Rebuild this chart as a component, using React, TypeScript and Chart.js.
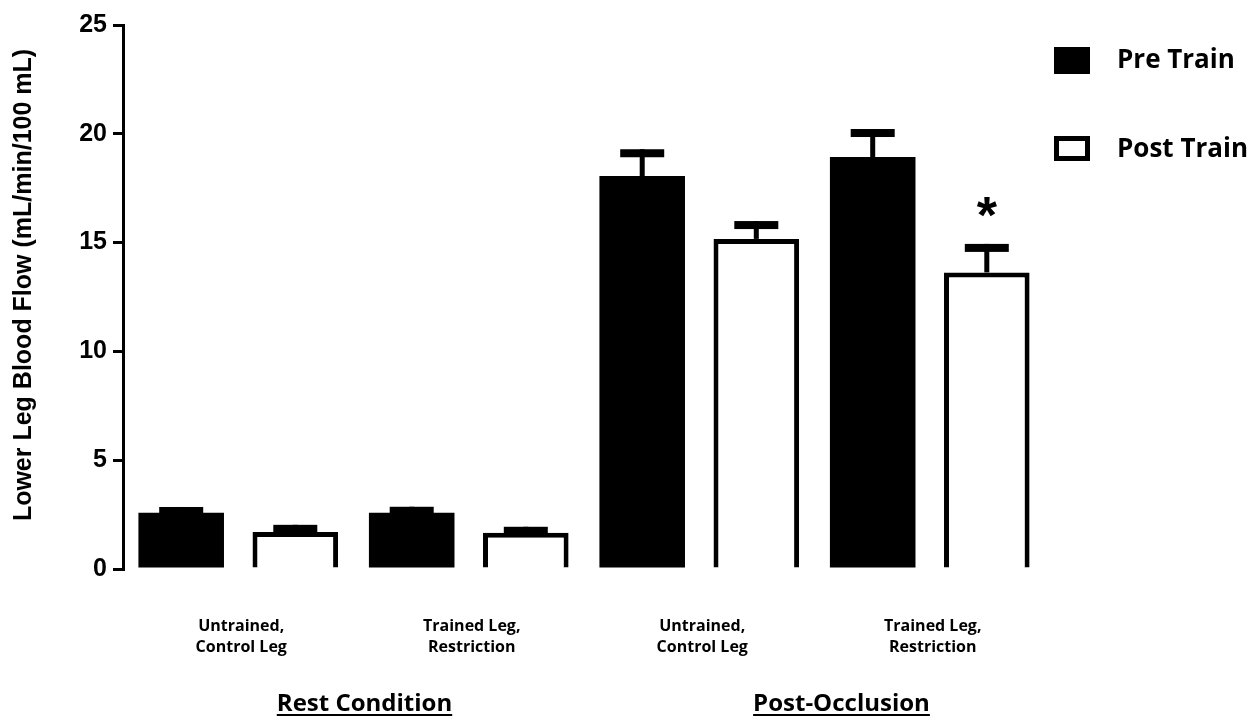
import React, { useEffect, useRef } from "react";
import { Chart, registerables } from "chart.js";

Chart.register(...registerables);

// ---------- data ----------
const categoryLabels: string[][] = [
  ["Untrained,", "Control Leg"],
  ["Trained Leg,", "Restriction"],
  ["Untrained,", "Control Leg"],
  ["Trained Leg,", "Restriction"],
];
const groupLabels: string[] = ["Rest Condition", "Post-Occlusion"];
const seriesNames: string[] = ["Pre Train", "Post Train"];
const preTrain: number[] = [2.59, 2.59, 18.06, 18.93];
const preTrainErr: number[] = [0.26, 0.27, 1.23, 1.29];
const postTrain: number[] = [1.7, 1.67, 15.17, 13.63];
const postTrainErr: number[] = [0.33, 0.27, 0.82, 1.31];
const postSignificance: string[] = ["", "", "", "*"];
const yTicks: number[] = [0, 5, 10, 15, 20, 25];
const yTitle = "Lower Leg Blood Flow (mL/min/100 mL)";

const LABEL_FONT = "'Open Sans', 'Noto Sans', sans-serif";
const AXIS_FONT = "'Liberation Sans', Arial, sans-serif";

const annotPlugin = {
  id: "annot",
  afterDatasetsDraw(chart: any) {
    const { ctx, chartArea, scales } = chart;
    const y = scales.y;
    const x = scales.x;
    const errs = [preTrainErr, postTrainErr];
    const vals = [preTrain, postTrain];
    ctx.save();
    ctx.fillStyle = "#000";
    // error bars
    [0, 1].forEach((di) => {
      const meta = chart.getDatasetMeta(di);
      meta.data.forEach((el: any, i: number) => {
        const topVal = vals[di][i] + errs[di][i];
        const top = y.getPixelForValue(topVal);
        const barTop = y.getPixelForValue(vals[di][i]);
        const cx = el.x;
        ctx.fillRect(cx - 2.5, top, 5, Math.max(0, barTop - top));
        ctx.fillRect(cx - 22, top, 44, 8);
      });
    });
    // significance markers
    const meta1 = chart.getDatasetMeta(1);
    ctx.font = `bold 52px ${AXIS_FONT}`;
    ctx.textAlign = "center";
    ctx.textBaseline = "alphabetic";
    postSignificance.forEach((s, i) => {
      if (!s) return;
      const el = meta1.data[i];
      const top = y.getPixelForValue(postTrain[i] + postTrainErr[i]);
      ctx.fillText(s, el.x, top - 11);
    });
    // category labels
    ctx.font = `bold 16px ${LABEL_FONT}`;
    ctx.textBaseline = "middle";
    categoryLabels.forEach((lines, i) => {
      const cx = x.getPixelForValue(i) + 3;
      lines.forEach((ln, k) => {
        ctx.fillText(ln, cx, 626 + k * 21);
      });
    });
    // group labels (underlined)
    ctx.font = `bold 24px ${LABEL_FONT}`;
    ctx.textBaseline = "alphabetic";
    const offsets = [11, 27];
    groupLabels.forEach((g, gi) => {
      const cx =
        (x.getPixelForValue(gi * 2) + x.getPixelForValue(gi * 2 + 1)) / 2 +
        offsets[gi];
      const by = 711;
      ctx.fillText(g, cx, by);
      const w = ctx.measureText(g).width;
      ctx.fillRect(cx - w / 2, by + 3, w, 2);
    });
    // y title
    ctx.save();
    ctx.translate(24, 285);
    ctx.rotate(-Math.PI / 2);
    ctx.font = `bold 25px ${AXIS_FONT}`;
    ctx.textAlign = "center";
    ctx.textBaseline = "middle";
    ctx.fillText(yTitle, 0, 0);
    ctx.restore();
    // legend
    ctx.textAlign = "left";
    ctx.textBaseline = "middle";
    ctx.font = `bold 26px ${LABEL_FONT}`;
    chart.data.datasets.forEach((ds: any, i: number) => {
      const lx = chartArea.right + 9;
      const ly = 47 + i * 89;
      if (i === 0) {
        ctx.fillStyle = "#000";
        ctx.fillRect(lx, ly, 36, 27);
      } else {
        ctx.fillStyle = "#000";
        ctx.fillRect(lx, ly, 36, 25);
        ctx.fillStyle = "#fff";
        ctx.fillRect(lx + 5, ly + 5, 26, 15);
      }
      ctx.fillStyle = "#000";
      ctx.fillText(ds.label, lx + 63, ly + 14);
    });
    ctx.restore();
  },
};

export default function App() {
  const ref = useRef<HTMLCanvasElement>(null);
  useEffect(() => {
    if (!ref.current) return;
    const chart = new Chart(ref.current, {
      type: "bar",
      data: {
        labels: categoryLabels.map((l) => l.join(" ")),
        datasets: [
          {
            label: seriesNames[0],
            data: preTrain,
            backgroundColor: "#000",
            borderWidth: 0,
          },
          {
            label: seriesNames[1],
            data: postTrain,
            backgroundColor: "#fff",
            borderColor: "#000",
            borderWidth: 5,
          },
        ],
      },
      options: {
        animation: false,
        responsive: true,
        maintainAspectRatio: false,
        layout: { padding: { top: 25, bottom: 148, right: 202, left: 0 } },
        plugins: { legend: { display: false }, tooltip: { enabled: false } },
        datasets: { bar: { categoryPercentage: 0.99, barPercentage: 0.75 } },
        scales: {
          x: { display: false },
          y: {
            min: 0,
            max: 25,
            afterBuildTicks: (s: any) => {
              s.ticks = yTicks.map((v) => ({ value: v }));
            },
            afterFit: (s: any) => {
              s.width = 123;
            },
            ticks: {
              color: "#000",
              padding: 6,
              font: { family: AXIS_FONT, size: 25, weight: "bold" },
            },
            grid: {
              drawOnChartArea: false,
              drawTicks: true,
              tickLength: 10,
              lineWidth: 3,
              color: "#000",
            },
            border: { display: true, width: 3, color: "#000" },
          },
        },
      } as any,
      plugins: [annotPlugin],
    });
    return () => chart.destroy();
  }, []);
  return (
    <div style={{ position: "absolute", left: 0, top: 0, width: 1247, height: 717, background: "#fff" }}>
      <canvas ref={ref} />
    </div>
  );
}
